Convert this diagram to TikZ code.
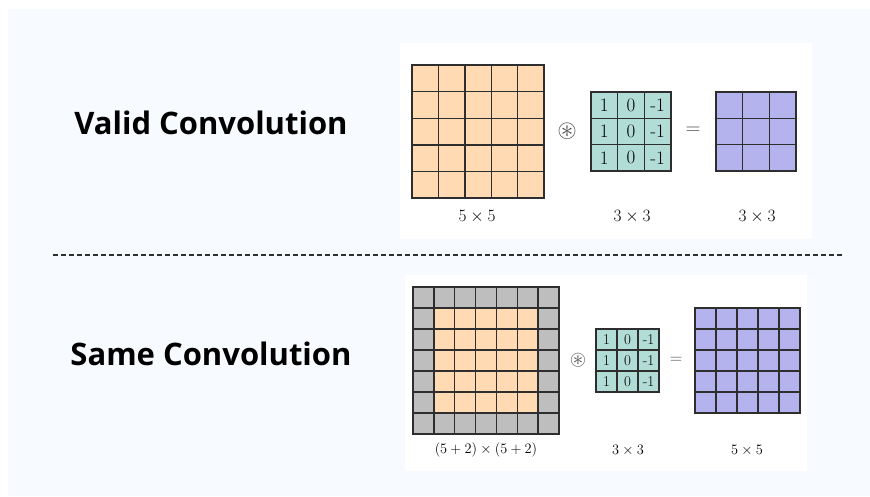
\documentclass[tikz,border=0pt]{standalone}
\usepackage{amssymb}
\usepackage{fontspec}
\newfontfamily\titlefont{Open Sans}
\definecolor{bgpanel}{HTML}{F7FAFF}
\definecolor{inputc}{HTML}{FFDAB3}
\definecolor{kernelc}{HTML}{B2DDD7}
\definecolor{outputc}{HTML}{B4B3EE}
\definecolor{padc}{HTML}{BEBEBE}
\definecolor{gridc}{HTML}{2E2E2E}
\definecolor{opc}{HTML}{4A4A4A}

\begin{document}
\begin{tikzpicture}[x=1pt,y=-1pt,every node/.style={inner sep=0pt},
  cellline/.style={draw=gridc,line width=1.4pt},
  title/.style={font=\titlefont\bfseries\fontsize{31}{36}\selectfont},
  biglabel/.style={font=\fontsize{17.5}{20}\selectfont},
  smalllabel/.style={font=\fontsize{14.5}{17}\selectfont},
  bigop/.style={font=\fontsize{25}{28}\selectfont,text=opc},
  smallop/.style={font=\fontsize{21}{24}\selectfont,text=opc}]
  \useasboundingbox (0,0) rectangle (870,496);
  \fill[bgpanel] (8,9) rectangle (870,496);
  \fill[white] (400,43) rectangle (812,239);
  \fill[white] (405,275) rectangle (807,471);

  % titles
  \node[title] (validtitle) at (211,123) {Valid Convolution};
  \node[title] (sametitle) at (211,354) {Same Convolution};

  % separator
  \coordinate (sepL) at (53,255);
  \coordinate (sepR) at (842,255);
  \draw[gridc,line width=1.3pt,dash pattern=on 5pt off 3pt] (sepL) -- (sepR);

  % valid: 5x5 input
  \foreach \i in {0,...,4}
    \foreach \j in {0,...,4}
      \draw[cellline,fill=inputc] (412+\i*26.4,65+\j*26.6) rectangle ++(26.4,26.6);
  % valid: 3x3 kernel
  \foreach \j in {0,1,2}
    \foreach \v [count=\i from 0] in {1,0,-1} {
      \draw[cellline,fill=kernelc] (591+\i*26.7,92+\j*26.3) rectangle ++(26.7,26.3);
      \node[font=\fontsize{19}{22}\selectfont] at (604.3+\i*26.7,105.2+\j*26.3) {\v};
    }
  % valid: 3x3 output
  \foreach \i in {0,1,2}
    \foreach \j in {0,1,2}
      \draw[cellline,fill=outputc] (716+\i*26.7,92+\j*26.3) rectangle ++(26.7,26.3);
  \node[bigop] (validconv) at (567,131) {$\circledast$};
  \node[bigop,font=\fontsize{20}{24}\selectfont] (valideq) at (693,131) {$=$};
  \node[biglabel] (validin) at (477,217) {$5\times5$};
  \node[biglabel] (validker) at (632,217) {$3\times3$};
  \node[biglabel] (validout) at (757,217) {$3\times3$};

  % same: padded 7x7 input
  \fill[padc] (413,287) rectangle (559,434);
  \fill[inputc] (413+20.9,287+21) rectangle (559-20.9,434-21);
  \foreach \i in {0,...,6}
    \foreach \j in {0,...,6}
      \draw[cellline] (413+\i*20.86,287+\j*21) rectangle ++(20.86,21);
  % same: 3x3 kernel
  \foreach \j in {0,1,2}
    \foreach \v [count=\i from 0] in {1,0,-1} {
      \draw[cellline,fill=kernelc] (596+\i*21,329+\j*21) rectangle ++(21,21);
      \node[font=\fontsize{15}{18}\selectfont] at (606.5+\i*21,339.5+\j*21) {\v};
    }
  % same: 5x5 output
  \foreach \i in {0,...,4}
    \foreach \j in {0,...,4}
      \draw[cellline,fill=outputc] (695+\i*21,308+\j*21) rectangle ++(21,21);
  \node[smallop] (sameconv) at (578,360) {$\circledast$};
  \node[smallop,font=\fontsize{17}{20}\selectfont] (sameeq) at (676,360) {$=$};
  \node[smalllabel] (samein) at (486,450) {$(5+2)\times(5+2)$};
  \node[smalllabel] (sameker) at (628,450) {$3\times3$};
  \node[smalllabel] (sameout) at (747,450) {$5\times5$};
\end{tikzpicture}
\end{document}
